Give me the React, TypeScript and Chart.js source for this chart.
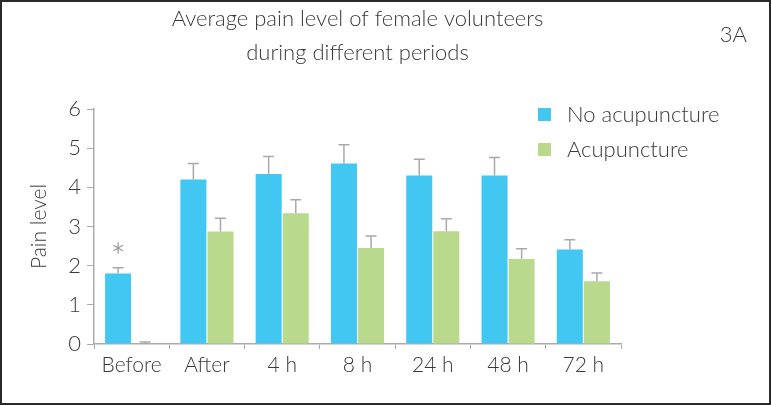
import React, { useEffect, useRef } from 'react';
import { Chart, registerables } from 'chart.js';

Chart.register(...registerables);

const categories = ['Before', 'After', '4 h', '8 h', '24 h', '48 h', '72 h'];
const noAcupuncture = [1.8, 4.2, 4.34, 4.61, 4.3, 4.3, 2.41];
const noAcupunctureErr = [0.15, 0.41, 0.45, 0.48, 0.42, 0.46, 0.25];
const acupuncture = [0, 2.87, 3.34, 2.45, 2.88, 2.17, 1.6];
const acupunctureErr = [0.05, 0.34, 0.34, 0.31, 0.32, 0.26, 0.21];
const significance = ['*', '', '', '', '', '', ''];
const yTicks = [0, 1, 2, 3, 4, 5, 6];
const titleLines = ['Average pain level of female volunteers', 'during different periods'];
const panelLabel = '3A';
const yAxisTitle = 'Pain level';

const FONT = 'Lato, "Open Sans", "DejaVu Sans", sans-serif';
const BLUE = '#41c7f2';
const GREEN = '#b9d98c';
const AXIS = '#ababab';
const ERR = '#a9a9a9';
const TEXT = '#3a3a3a';

const errorBarPlugin = {
  id: 'errorBars',
  afterDatasetsDraw(chart: any) {
    const { ctx } = chart;
    const y = chart.scales.y;
    ctx.save();
    ctx.strokeStyle = ERR;
    ctx.lineWidth = 1.5;
    chart.data.datasets.forEach((ds: any, i: number) => {
      const meta = chart.getDatasetMeta(i);
      meta.data.forEach((bar: any, j: number) => {
        const v = ds.data[j];
        const e = ds.errors[j];
        const yTop = y.getPixelForValue(v + e);
        const yBase = y.getPixelForValue(v);
        ctx.beginPath();
        ctx.moveTo(bar.x, yBase);
        ctx.lineTo(bar.x, yTop);
        ctx.moveTo(bar.x - 5.5, yTop);
        ctx.lineTo(bar.x + 5.5, yTop);
        ctx.stroke();
      });
    });
    const ds0 = chart.data.datasets[0];
    const meta0 = chart.getDatasetMeta(0);
    significance.forEach((s, j) => {
      if (!s) return;
      const bar: any = meta0.data[j];
      const cy = y.getPixelForValue(ds0.data[j] + ds0.errors[j] + 0.5);
      const r = 5.5;
      ctx.strokeStyle = '#9a9a9a';
      ctx.lineWidth = 1.2;
      ctx.beginPath();
      for (let k = 0; k < 3; k++) {
        const a = Math.PI / 2 + (k * Math.PI) / 3;
        ctx.moveTo(bar.x + r * Math.cos(a), cy + r * Math.sin(a));
        ctx.lineTo(bar.x - r * Math.cos(a), cy - r * Math.sin(a));
      }
      ctx.stroke();
    });
    ctx.restore();
  },
};

const decorPlugin = {
  id: 'decor',
  afterDraw(chart: any) {
    const { ctx, chartArea } = chart;
    ctx.save();
    ctx.font = `300 22px ${FONT}`;
    ctx.fillStyle = TEXT;
    ctx.textBaseline = 'alphabetic';
    ctx.textAlign = 'right';
    ctx.fillText(panelLabel, chart.width - 22, 40);
    ctx.textAlign = 'left';
    chart.data.datasets.forEach((ds: any, i: number) => {
      const baseline = chartArea.top + 13 + i * 35;
      ctx.fillStyle = ds.backgroundColor;
      ctx.fillRect(chartArea.right - 83, baseline - 14, 13, 13);
      ctx.fillStyle = TEXT;
      ctx.fillText(ds.label, chartArea.right - 54, baseline);
    });
    ctx.restore();
  },
};

export default function App() {
  const ref = useRef<HTMLCanvasElement>(null);
  useEffect(() => {
    const chart = new Chart(ref.current as HTMLCanvasElement, {
      type: 'bar',
      data: {
        labels: categories,
        datasets: [
          {
            label: 'No acupuncture',
            data: noAcupuncture,
            backgroundColor: BLUE,
            errors: noAcupunctureErr,
            categoryPercentage: 0.72,
            barPercentage: 0.96,
          } as any,
          {
            label: 'Acupuncture',
            data: acupuncture,
            backgroundColor: GREEN,
            errors: acupunctureErr,
            categoryPercentage: 0.72,
            barPercentage: 0.96,
          } as any,
        ],
      },
      options: {
        responsive: false,
        animation: false,
        layout: { padding: { left: 21, right: 148, top: 0, bottom: 19 } },
        plugins: {
          legend: { display: false },
          tooltip: { enabled: false },
          title: {
            display: true,
            fullSize: false,
            text: titleLines,
            color: TEXT,
            font: { family: FONT, size: 22, weight: '300' as any, lineHeight: '34px' as any },
            padding: { top: 0, bottom: 39 },
          },
        },
        scales: {
          x: {
            grid: { drawOnChartArea: false, drawTicks: true, tickLength: 5, color: AXIS, offset: true },
            border: { color: AXIS, width: 1.5 },
            ticks: { color: TEXT, padding: 4, font: { family: FONT, size: 21, weight: '300' as any } },
            afterFit: (s: any) => { s.height = 40; },
          },
          y: {
            min: 0,
            max: 6,
            afterBuildTicks: (s: any) => { s.ticks = yTicks.map((v) => ({ value: v })); },
            grid: { drawOnChartArea: false, drawTicks: true, tickLength: 7, color: AXIS },
            border: { color: AXIS, width: 1.5 },
            ticks: { color: TEXT, padding: 6, font: { family: FONT, size: 22, weight: '300' as any } },
            title: {
              display: true,
              text: yAxisTitle,
              color: TEXT,
              font: { family: FONT, size: 21, weight: '300' as any },
            },
            afterFit: (s: any) => { s.width = 71; },
          },
        },
      },
      plugins: [errorBarPlugin, decorPlugin],
    });
    return () => chart.destroy();
  }, []);
  return (
    <div
      style={{
        position: 'absolute',
        left: 0,
        top: 0,
        width: 771,
        height: 405,
        boxSizing: 'border-box',
        border: '2px solid #2a2a2a',
        background: '#fff',
      }}
    >
      <canvas ref={ref} width={767} height={401} style={{ display: 'block', width: 767, height: 401 }} />
    </div>
  );
}
